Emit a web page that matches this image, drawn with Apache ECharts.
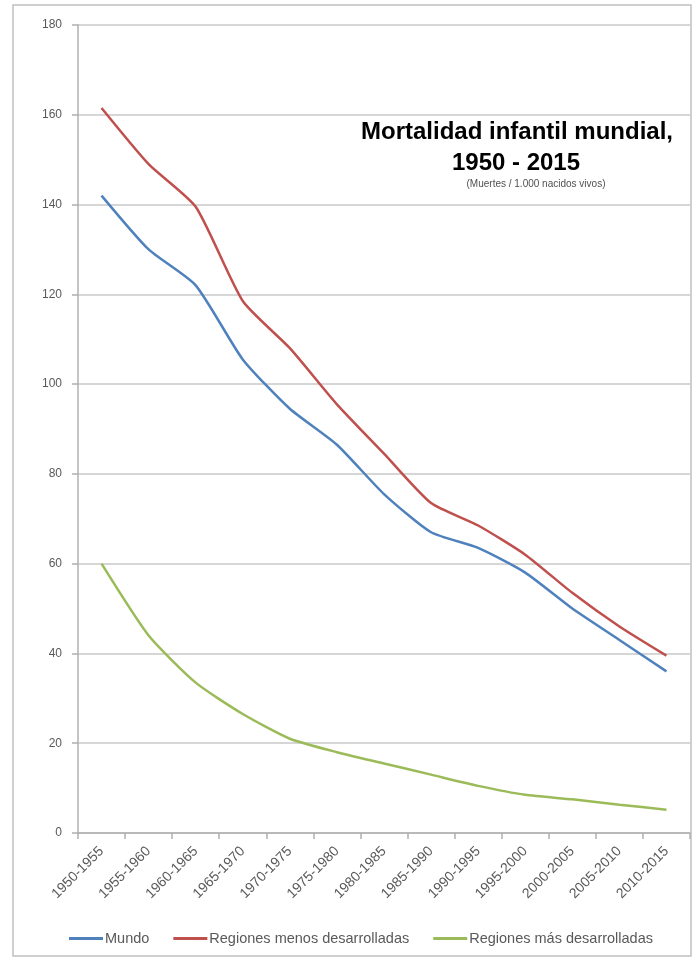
<!DOCTYPE html>
<html>
<head>
<meta charset="utf-8">
<script src="https://cdn.jsdelivr.net/npm/echarts@6/dist/echarts.min.js"></script>
<style>
  html, body { margin: 0; padding: 0; background: #ffffff; }
  #chart { width: 694px; height: 960px; }
</style>
</head>
<body>
<div id="chart"></div>
<script>
const categories = ['1950-1955','1955-1960','1960-1965','1965-1970','1970-1975','1975-1980','1980-1985','1985-1990','1990-1995','1995-2000','2000-2005','2005-2010','2010-2015'];
const mundo = [142, 130, 122, 105.5, 94.5, 86.5, 75.5, 67, 63.5, 58, 50, 43, 36];
const menosDesarrolladas = [161.5, 149, 139.5, 118.5, 108, 95.5, 84.5, 73.5, 68.5, 62, 53.5, 46, 39.5];
const masDesarrolladas = [60, 44, 33.5, 26.5, 21, 18, 15.5, 13, 10.5, 8.5, 7.5, 6.3, 5.2];
const seriesNames = ['Mundo', 'Regiones menos desarrolladas', 'Regiones más desarrolladas'];
const titleLines = ['Mortalidad infantil mundial,', '1950 - 2015', '(Muertes / 1.000 nacidos vivos)'];

const FONT = 'Liberation Sans, Arial, sans-serif';
const chart = echarts.init(document.getElementById('chart'), null, { renderer: 'canvas' });

function lineSeries(name, data, color) {
  return {
    name: name,
    type: 'line',
    data: data,
    smooth: 0.2,
    symbol: 'none',
    lineStyle: { color: color, width: 2.5 },
    itemStyle: { color: color }
  };
}

chart.setOption({
  backgroundColor: '#ffffff',
  animation: false,
  grid: { left: 78, right: 4, top: 25, bottom: 127, containLabel: false },
  xAxis: {
    type: 'category',
    data: categories,
    boundaryGap: true,
    axisLine: { show: true, lineStyle: { color: '#b0b0b0', width: 1.5 } },
    axisTick: { show: true, length: 6, lineStyle: { color: '#b0b0b0', width: 1.5 } },
    axisLabel: { rotate: 45, fontSize: 14, color: '#595959', fontFamily: FONT, margin: 16, interval: 0 },
    splitLine: { show: false }
  },
  yAxis: {
    type: 'value',
    min: 0,
    max: 180,
    interval: 20,
    axisLine: { show: true, lineStyle: { color: '#b0b0b0', width: 1.5 } },
    axisTick: { show: true, length: 6, lineStyle: { color: '#b0b0b0', width: 1.5 } },
    axisLabel: { fontSize: 12, color: '#595959', fontFamily: FONT, margin: 16 },
    splitLine: { show: true, lineStyle: { color: '#c8c8c8', width: 1.5 } }
  },
  legend: {
    bottom: 9,
    left: 64,
    icon: 'rect',
    itemWidth: 34,
    itemHeight: 3,
    itemGap: 24,
    textStyle: { fontSize: 14.5, color: '#595959', fontFamily: FONT, padding: [0, 0, 0, -3] },
    data: seriesNames
  },
  series: [
    lineSeries(seriesNames[0], mundo, '#4F81BD'),
    lineSeries(seriesNames[1], menosDesarrolladas, '#C0504D'),
    lineSeries(seriesNames[2], masDesarrolladas, '#9BBB59')
  ],
  graphic: [
    {
      type: 'rect',
      shape: { x: 13, y: 5, width: 678, height: 951 },
      style: { fill: 'none', stroke: '#c0c0c0', lineWidth: 1.5 },
      silent: true
    },
    {
      type: 'text',
      x: 517, y: 132,
      style: { text: titleLines[0], font: 'bold 24px ' + FONT, fill: '#000000', textAlign: 'center', textVerticalAlign: 'middle' }
    },
    {
      type: 'text',
      x: 516, y: 163,
      style: { text: titleLines[1], font: 'bold 24px ' + FONT, fill: '#000000', textAlign: 'center', textVerticalAlign: 'middle' }
    },
    {
      type: 'text',
      x: 536, y: 184,
      style: { text: titleLines[2], font: '10px ' + FONT, fill: '#505050', textAlign: 'center', textVerticalAlign: 'middle' }
    }
  ]
});
</script>
</body>
</html>
